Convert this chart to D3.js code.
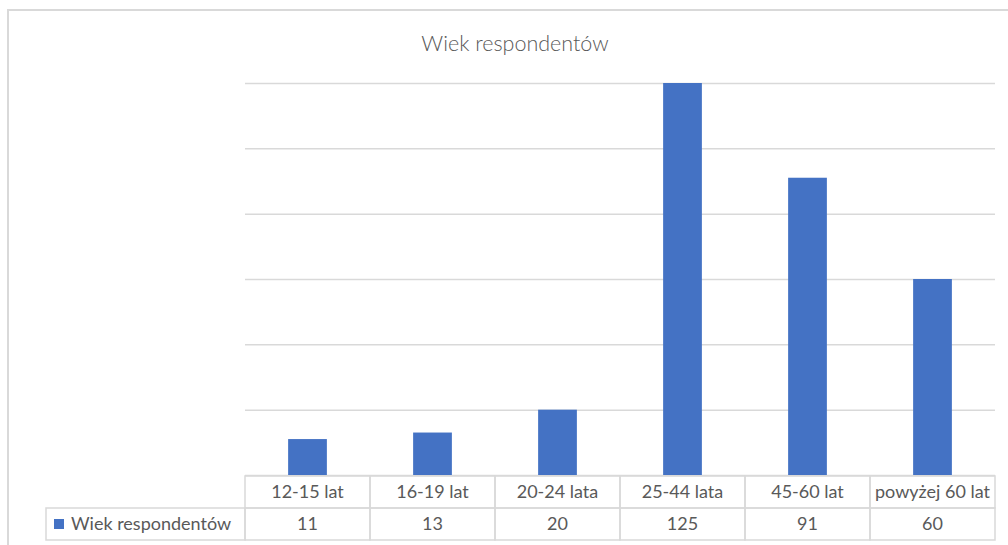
<!DOCTYPE html>
<html>
<head>
<meta charset="utf-8">
<script src="https://cdn.jsdelivr.net/npm/d3@7"></script>
<style>
  body { margin: 0; background: #fff; }
  svg { display: block; font-family: Lato, 'Open Sans', sans-serif; }
  .grid line { stroke: #d9d9d9; stroke-width: 1.5; }
  .grid .domain { display: none; }
  .cell { fill: none; stroke: #d9d9d9; stroke-width: 1.5; }
  .label { fill: #595959; font-size: 18px; }
</style>
</head>
<body>
<svg id="chart"></svg>
<script>
const categories = ['12-15 lat', '16-19 lat', '20-24 lata', '25-44 lata', '45-60 lat', 'powyżej 60 lat']
const values = [11, 13, 20, 125, 91, 60]
const seriesName = 'Wiek respondentów'
const yTicks = [0, 20, 40, 60, 80, 100, 120]

const dimensions = { w: 1008, h: 545 }
const plot = { left: 245, right: 995, top: 83, bottom: 475 }
const table = { left: 46, rowH: 32 }

const svg = d3.select('#chart')
  .attr('width', dimensions.w)
  .attr('height', dimensions.h)

// outer chart frame (cropped at right and bottom)
svg.append('path')
  .attr('d', `M8,${dimensions.h} L8,10 L${dimensions.w},10`)
  .attr('fill', 'none')
  .attr('stroke', '#d9d9d9')
  .attr('stroke-width', 2)

svg.append('text')
  .attr('x', 515)
  .attr('y', 51)
  .attr('text-anchor', 'middle')
  .attr('fill', '#595959')
  .style('font-size', '21.5px')
  .style('font-weight', 300)
  .text(seriesName)

const scales = {
  x: d3.scaleBand()
    .domain(categories)
    .range([plot.left, plot.right])
    .paddingInner(0.69)
    .paddingOuter(0.345),
  col: d3.scaleBand()
    .domain(categories)
    .range([plot.left, plot.right]),
  y: d3.scaleLinear()
    .domain([0, d3.max(yTicks)])
    .range([plot.bottom, plot.top])
}

svg.append('g')
  .attr('class', 'grid')
  .attr('transform', `translate(${plot.left}, 0)`)
  .call(d3.axisLeft(scales.y)
    .tickValues(yTicks)
    .tickSize(-(plot.right - plot.left))
    .tickFormat(''))

// bars above the axis max get clipped, like in the original
svg.append('defs')
  .append('clipPath')
  .attr('id', 'plot-clip')
  .append('rect')
  .attr('x', plot.left)
  .attr('y', scales.y(d3.max(yTicks)))
  .attr('width', plot.right - plot.left)
  .attr('height', plot.bottom - scales.y(d3.max(yTicks)))

svg.append('g')
  .attr('clip-path', 'url(#plot-clip)')
  .selectAll('rect')
  .data(values)
  .join('rect')
  .attr('x', (d, i) => scales.x(categories[i]))
  .attr('y', d => scales.y(d))
  .attr('width', scales.x.bandwidth())
  .attr('height', d => scales.y(0) - scales.y(d))
  .attr('fill', '#4472c4')

// data table
const rowTop = [plot.bottom + 1, plot.bottom + 1 + table.rowH]
const tbl = svg.append('g')

tbl.selectAll('.head')
  .data(categories)
  .join('rect')
  .attr('class', 'cell')
  .attr('x', d => scales.col(d))
  .attr('y', rowTop[0])
  .attr('width', scales.col.bandwidth())
  .attr('height', table.rowH)

tbl.selectAll('.val')
  .data(categories)
  .join('rect')
  .attr('class', 'cell')
  .attr('x', d => scales.col(d))
  .attr('y', rowTop[1])
  .attr('width', scales.col.bandwidth())
  .attr('height', table.rowH)

tbl.append('rect')
  .attr('class', 'cell')
  .attr('x', table.left)
  .attr('y', rowTop[1])
  .attr('width', plot.left - table.left)
  .attr('height', table.rowH)

tbl.selectAll('.cat')
  .data(categories)
  .join('text')
  .attr('class', 'label')
  .attr('x', d => scales.col(d) + scales.col.bandwidth() / 2)
  .attr('y', rowTop[0] + table.rowH / 2)
  .attr('dy', '0.35em')
  .attr('text-anchor', 'middle')
  .text(d => d)

tbl.selectAll('.num')
  .data(values)
  .join('text')
  .attr('class', 'label')
  .attr('x', (d, i) => scales.col(categories[i]) + scales.col.bandwidth() / 2)
  .attr('y', rowTop[1] + table.rowH / 2)
  .attr('dy', '0.35em')
  .attr('text-anchor', 'middle')
  .text(d => d)

tbl.append('rect')
  .attr('x', 54)
  .attr('y', rowTop[1] + table.rowH / 2 - 5)
  .attr('width', 10)
  .attr('height', 10)
  .attr('fill', '#4472c4')

tbl.append('text')
  .attr('class', 'label')
  .attr('x', 71)
  .attr('y', rowTop[1] + table.rowH / 2)
  .attr('dy', '0.35em')
  .text(seriesName)
</script>
</body>
</html>
